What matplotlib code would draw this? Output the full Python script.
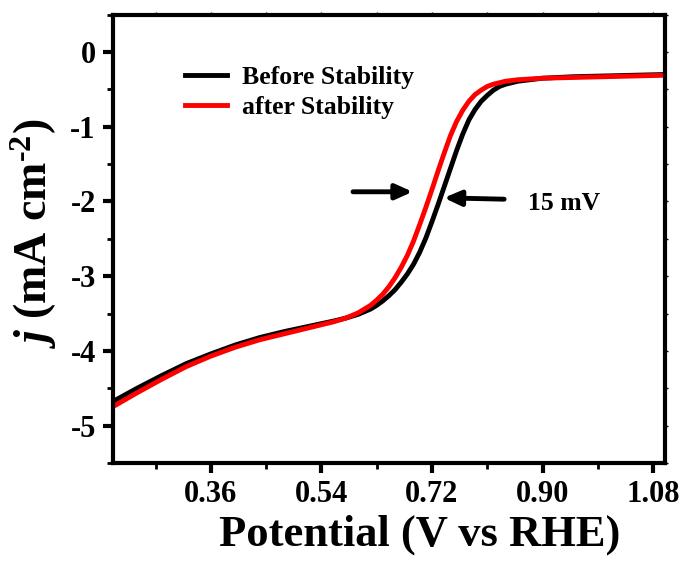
import numpy as np
import matplotlib.pyplot as plt
from matplotlib.ticker import MultipleLocator

plt.rcParams['font.family'] = 'Liberation Serif'
plt.rcParams['font.weight'] = 'bold'
plt.rcParams['mathtext.fontset'] = 'custom'
plt.rcParams['mathtext.rm'] = 'Liberation Serif:bold'
plt.rcParams['mathtext.it'] = 'Liberation Serif:italic:bold'
plt.rcParams['mathtext.bf'] = 'Liberation Serif:bold'

# LSV curves (V vs RHE, mA cm-2)
v_before = [0.20, 0.24, 0.28, 0.32, 0.36, 0.40, 0.44, 0.48, 0.52, 0.56, 0.58, 0.60,
            0.62, 0.63, 0.64, 0.65, 0.66, 0.67, 0.68, 0.69, 0.70, 0.71, 0.72, 0.73,
            0.74, 0.75, 0.76, 0.77, 0.78, 0.79, 0.80, 0.81, 0.82, 0.83, 0.84, 0.86,
            0.88, 0.90, 0.95, 1.00, 1.05, 1.10]
j_before = [-4.68, -4.50, -4.33, -4.17, -4.04, -3.92, -3.82, -3.74, -3.67, -3.60, -3.56, -3.51,
            -3.44, -3.39, -3.33, -3.26, -3.18, -3.08, -2.97, -2.84, -2.68, -2.49, -2.27, -2.04,
            -1.80, -1.56, -1.32, -1.10, -0.91, -0.77, -0.66, -0.58, -0.51, -0.46, -0.43, -0.39,
            -0.37, -0.35, -0.33, -0.32, -0.31, -0.30]
v_after = [0.20, 0.24, 0.28, 0.32, 0.36, 0.40, 0.44, 0.48, 0.52, 0.56, 0.58, 0.60,
           0.62, 0.63, 0.64, 0.65, 0.66, 0.67, 0.68, 0.69, 0.70, 0.71, 0.72, 0.73,
           0.74, 0.75, 0.76, 0.77, 0.78, 0.79, 0.80, 0.81, 0.82, 0.84, 0.86, 0.88,
           0.90, 0.95, 1.00, 1.05, 1.10]
j_after = [-4.75, -4.56, -4.38, -4.21, -4.07, -3.95, -3.85, -3.77, -3.69, -3.61, -3.56, -3.49,
           -3.39, -3.32, -3.24, -3.14, -3.02, -2.88, -2.72, -2.53, -2.31, -2.08, -1.84, -1.59,
           -1.35, -1.12, -0.93, -0.78, -0.66, -0.57, -0.51, -0.46, -0.43, -0.39, -0.37, -0.36,
           -0.35, -0.34, -0.33, -0.32, -0.31]

x_ticks = [0.36, 0.54, 0.72, 0.90, 1.08]
y_ticks = [0, -1, -2, -3, -4, -5]

fig = plt.figure(figsize=(6.86, 5.66), dpi=100)
ax = fig.add_axes([0.164, 0.182, 0.806, 0.792])

ax.plot(v_before, j_before, color='black', lw=3.5, label='Before Stability',
        solid_joinstyle='round')
ax.plot(v_after, j_after, color='red', lw=3.5, label='after Stability',
        solid_joinstyle='round')

ax.set_xlim(0.20, 1.10)
ax.set_ylim(-5.5, 0.5)
ax.set_xticks(x_ticks)
ax.set_xticklabels([f'{t:.2f}' for t in x_ticks])
ax.set_yticks(y_ticks)
ax.set_yticklabels([f'{t:d}' for t in y_ticks])
ax.xaxis.set_minor_locator(MultipleLocator(0.09))
ax.yaxis.set_minor_locator(MultipleLocator(0.5))

for s in ax.spines.values():
    s.set_linewidth(3)
ax.tick_params(which='major', direction='out', length=7, width=3, labelsize=22, pad=5)
ax.tick_params(which='minor', direction='out', length=4, width=2)
# faint tiny ticks on the top and right frame
ax.tick_params(which='both', top=True, right=True)
for t in (ax.xaxis.get_major_ticks() + ax.xaxis.get_minor_ticks()
          + ax.yaxis.get_major_ticks() + ax.yaxis.get_minor_ticks()):
    t.tick2line.set_markersize(2)
    t.tick2line.set_markeredgewidth(1)
    t.tick2line.set_color('#888888')

ax.set_xlabel('Potential (V vs RHE)', fontsize=32, fontweight='bold')
ax.xaxis.set_label_coords(0.555, -0.115)
ax.set_ylabel(r'$j$ (mA cm$^{\text{-2}}$)', fontsize=33, fontweight='bold')
ax.yaxis.set_label_coords(-0.097, 0.511)

ax.legend(loc='upper left', bbox_to_anchor=(0.09, 0.937), frameon=False,
          fontsize=18.5, handlelength=1.6, handletextpad=0.6, labelspacing=0.25)

ax.annotate('', xy=(0.693, -1.87), xytext=(0.587, -1.87),
            arrowprops=dict(arrowstyle='-|>,head_length=1.0,head_width=0.45', color='black', lw=3.5))
ax.annotate('', xy=(0.735, -1.95), xytext=(0.842, -1.97),
            arrowprops=dict(arrowstyle='-|>,head_length=1.0,head_width=0.45', color='black', lw=3.5))
ax.text(0.877, -2.03, '15 mV', fontsize=18.5, fontweight='bold', va='center', ha='left')

fig.savefig('out.png', dpi=100)
